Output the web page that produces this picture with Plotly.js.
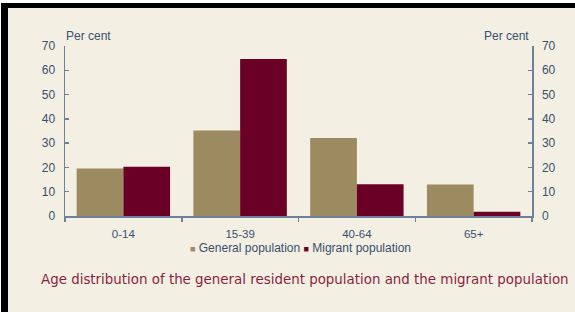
<!DOCTYPE html>
<html>
<head>
<meta charset="utf-8">
<script src="https://cdn.plot.ly/plotly-3.0.1.min.js"></script>
<style>
html,body{margin:0;padding:0;background:#ffffff;}
#wrap{position:relative;width:575px;height:312px;overflow:hidden;}
#chart{position:absolute;left:0;top:0;width:575px;height:312px;}
.bl{position:absolute;left:1px;top:3px;width:7px;height:309px;background:#000;}
.bt{position:absolute;left:1px;top:3px;width:574px;height:5px;background:#000;}
.wt{position:absolute;left:0;top:0;width:575px;height:3px;background:#fff;}
.wl{position:absolute;left:0;top:0;width:1px;height:312px;background:#fff;}
</style>
</head>
<body>
<div id="wrap">
<div id="chart"></div>
<div class="wt"></div><div class="wl"></div>
<div class="bl"></div><div class="bt"></div>
</div>
<script>
const categories = ["0-14", "15-39", "40-64", "65+"];
const generalPopulation = [19.6, 35.2, 32.1, 13.0];
const migrantPopulation = [20.3, 64.6, 13.1, 1.8];
const yTicks = [0, 10, 20, 30, 40, 50, 60, 70];
const seriesNames = ["General population", "Migrant population"];
const seriesColors = ["#9c8a61", "#6b0026"];
const captionText = "Age distribution of the general resident population and the migrant population";

const axisColor = "#6f819b";
const tickFont = {family: "Liberation Sans, Arial, sans-serif", size: 12, color: "#3a4f6e"};
const xTickFont = {family: "Liberation Sans, Arial, sans-serif", size: 11.5, color: "#3a4f6e"};

const traces = [
  {type: "bar", x: categories, y: generalPopulation, name: seriesNames[0],
   marker: {color: seriesColors[0]}, hoverinfo: "y"},
  {type: "bar", x: categories, y: migrantPopulation, name: seriesNames[1],
   marker: {color: seriesColors[1]}, hoverinfo: "y"},
  {type: "bar", x: categories, y: [0,0,0,0], yaxis: "y2", showlegend: false,
   marker: {color: "rgba(0,0,0,0)"}, hoverinfo: "skip"}
];

const legendText = seriesNames.map((n, i) =>
  '<span style="color:' + seriesColors[i] + ';font-size:9px">■</span> ' + n).join(' ');

const layout = {
  width: 575, height: 312,
  paper_bgcolor: "#f3efe3", plot_bgcolor: "#f3efe3",
  margin: {l: 65, r: 43, t: 46, b: 96},
  barmode: "group", bargap: 0.2, bargroupgap: 0,
  showlegend: false,
  xaxis: {type: "category", categoryarray: categories, showline: true, linecolor: axisColor, linewidth: 1.5,
          ticks: "outside", tickson: "boundaries", ticklen: 4, tickcolor: axisColor, tickwidth: 1.5,
          ticklabelstandoff: 7,
          tickfont: xTickFont, showgrid: false, zeroline: false, fixedrange: true},
  yaxis: {range: [0, 70], tickvals: yTicks, showline: true, linecolor: axisColor, linewidth: 1.5,
          ticks: "inside", ticklen: 4, tickcolor: axisColor, tickwidth: 1.5, ticklabelstandoff: 6,
          tickfont: tickFont, showgrid: false, zeroline: false, fixedrange: true},
  yaxis2: {range: [0, 70], tickvals: yTicks, overlaying: "y", side: "right", showline: true,
           linecolor: axisColor, linewidth: 1.5, ticks: "inside", ticklen: 4, tickcolor: axisColor,
           tickwidth: 1.5, ticklabelstandoff: 6, tickfont: tickFont, showgrid: false, zeroline: false, fixedrange: true},
  annotations: [
    {xref: "paper", yref: "paper", x: -0.003, y: 1.06, xanchor: "left", yanchor: "middle",
     text: "Per cent", showarrow: false, font: tickFont},
    {xref: "paper", yref: "paper", x: 0.998, y: 1.06, xanchor: "right", yanchor: "middle",
     text: "Per cent", showarrow: false, font: tickFont},
    {xref: "paper", yref: "paper", x: 0.505, y: -0.19, xanchor: "center", yanchor: "middle",
     text: legendText, showarrow: false, font: tickFont},
    {xref: "paper", yref: "paper", x: 0.514, y: -0.375, xanchor: "center", yanchor: "middle",
     text: captionText, showarrow: false,
     font: {family: "DejaVu Sans, Verdana, sans-serif", size: 13.4, color: "#8b1e3f"}}
  ]
};

Plotly.newPlot("chart", traces, layout, {displayModeBar: false, staticPlot: true});
</script>
</body>
</html>
